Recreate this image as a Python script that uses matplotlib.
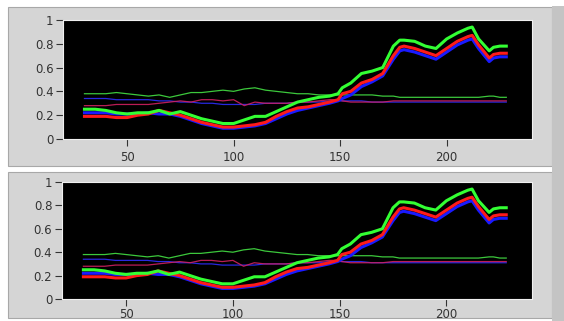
import matplotlib
matplotlib.use('Agg')
from matplotlib import pyplot as plt
from matplotlib.patches import Rectangle

# sample positions
x = [30, 35, 40, 45, 50, 55, 60, 65, 70, 75, 80, 85, 90, 95, 100, 105, 110, 115, 120, 125,
     130, 135, 140, 145, 149, 151, 155, 160, 165, 170, 175, 178, 180, 185, 190, 195, 200,
     205, 210, 212, 215, 220, 222, 225, 228]

green_thick = [0.25, 0.25, 0.24, 0.22, 0.21, 0.22, 0.22, 0.24, 0.21, 0.23, 0.20, 0.17, 0.15,
               0.13, 0.13, 0.16, 0.19, 0.19, 0.23, 0.27, 0.31, 0.33, 0.35, 0.36, 0.38, 0.43,
               0.47, 0.55, 0.57, 0.60, 0.78, 0.83, 0.83, 0.82, 0.78, 0.76, 0.84, 0.89, 0.93,
               0.94, 0.84, 0.74, 0.77, 0.78, 0.78]
red_thick = [0.19, 0.19, 0.19, 0.18, 0.18, 0.20, 0.21, 0.24, 0.22, 0.20, 0.17, 0.14, 0.12,
             0.10, 0.10, 0.11, 0.12, 0.14, 0.19, 0.23, 0.26, 0.27, 0.29, 0.31, 0.33, 0.38,
             0.40, 0.47, 0.50, 0.55, 0.70, 0.77, 0.78, 0.76, 0.73, 0.70, 0.76, 0.82, 0.86,
             0.87, 0.79, 0.68, 0.71, 0.72, 0.72]
blue_thick = [0.22, 0.22, 0.22, 0.21, 0.21, 0.21, 0.22, 0.21, 0.21, 0.19, 0.16, 0.13, 0.11,
              0.09, 0.09, 0.10, 0.11, 0.13, 0.17, 0.21, 0.24, 0.26, 0.28, 0.30, 0.32, 0.34,
              0.37, 0.44, 0.48, 0.53, 0.67, 0.74, 0.75, 0.73, 0.70, 0.67, 0.73, 0.79, 0.83,
              0.84, 0.76, 0.65, 0.68, 0.69, 0.69]
green_thin = [0.38, 0.38, 0.38, 0.39, 0.38, 0.37, 0.36, 0.37, 0.35, 0.37, 0.39, 0.39, 0.40,
              0.41, 0.40, 0.42, 0.43, 0.41, 0.40, 0.39, 0.38, 0.38, 0.37, 0.37, 0.37, 0.37,
              0.37, 0.37, 0.37, 0.36, 0.36, 0.35, 0.35, 0.35, 0.35, 0.35, 0.35, 0.35, 0.35,
              0.35, 0.35, 0.36, 0.36, 0.35, 0.35]
blue_thin = [0.34, 0.34, 0.34, 0.33, 0.33, 0.33, 0.33, 0.32, 0.32, 0.31, 0.31, 0.30, 0.30,
             0.29, 0.29, 0.29, 0.29, 0.30, 0.30, 0.30, 0.31, 0.31, 0.31, 0.32, 0.32, 0.32,
             0.32, 0.32, 0.31, 0.31, 0.31, 0.31, 0.31, 0.31, 0.31, 0.31, 0.31, 0.31, 0.31,
             0.31, 0.31, 0.31, 0.31, 0.31, 0.31]
red_thin = [0.28, 0.28, 0.28, 0.29, 0.29, 0.29, 0.29, 0.30, 0.31, 0.32, 0.31, 0.33, 0.33,
            0.32, 0.33, 0.28, 0.31, 0.30, 0.30, 0.30, 0.31, 0.31, 0.32, 0.33, 0.33, 0.32,
            0.31, 0.31, 0.31, 0.31, 0.32, 0.32, 0.32, 0.32, 0.32, 0.32, 0.32, 0.32, 0.32,
            0.32, 0.32, 0.32, 0.32, 0.32, 0.32]

xticks = [50, 100, 150, 200]
yticks = [0, 0.2, 0.4, 0.6, 0.8, 1]
ylabels = ['0', '0.2', '0.4', '0.6', '0.8', '1']

fig = plt.figure(figsize=(5.64, 3.21), dpi=100, facecolor='white')

# grey panels behind the two graphs
for (y0, h) in [(0.483, 0.495), (0.01, 0.455)]:
    fig.patches.append(Rectangle((0.014, y0), 0.965, h, transform=fig.transFigure,
                                 facecolor='#d5d5d5', edgecolor='#a8a8a8', lw=0.8, zorder=-2))
fig.patches.append(Rectangle((0.979, 0.0), 0.021, 0.98, transform=fig.transFigure,
                             facecolor='#c4c4c4', edgecolor='none', zorder=-2))

boxes = [[0.112, 0.567, 0.831, 0.371], [0.11, 0.0685, 0.833, 0.3645]]
for i, b in enumerate(boxes):
    ax = fig.add_axes(b)
    ax.set_facecolor('black')
    ax.plot(x, green_thin, color='#3cc83c', lw=0.9)
    ax.plot(x, blue_thin, color='#2828e0', lw=0.9)
    ax.plot(x, red_thin, color='#d02060', lw=0.9, alpha=0.9)
    ax.plot(x, blue_thick, color='#1a1aff', lw=2.2)
    ax.plot(x, red_thick, color='#ff1a1a', lw=2.2)
    ax.plot(x, green_thick, color='#33ff33', lw=2.2)
    ax.set_xlim(20, 240)
    ax.set_ylim(0, 1)
    ax.set_xticks(xticks)
    ax.set_yticks(yticks)
    ax.set_yticklabels(ylabels)
    ax.tick_params(axis='both', colors='#333333', labelsize=8.5, length=5, width=0.8)
    ax.tick_params(axis='x', pad=4 if i == 0 else 1.5)
    ax.tick_params(axis='y', pad=2)
    for s in ax.spines.values():
        s.set_color('#f0f0f0')
        s.set_linewidth(0.8)

plt.savefig('out.png', dpi=100, facecolor='white')
